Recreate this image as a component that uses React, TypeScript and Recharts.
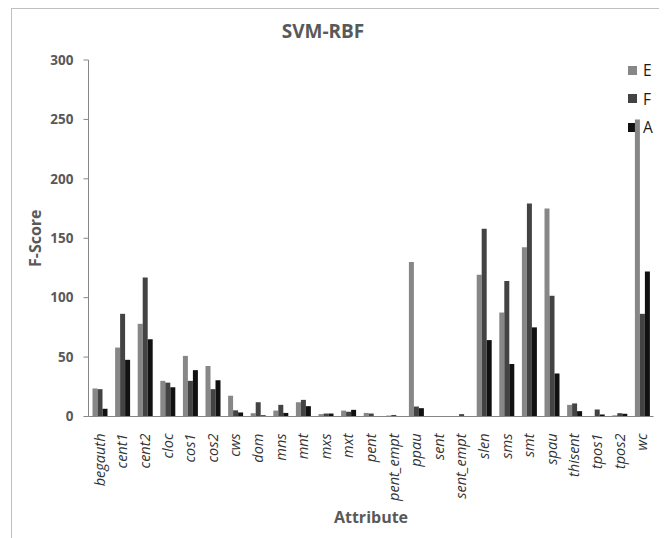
import { BarChart, Bar, XAxis, YAxis, Label } from "recharts";

const categories = [
  "begauth", "cent1", "cent2", "cloc", "cos1", "cos2", "cws", "dom", "mns",
  "mnt", "mxs", "mxt", "pent", "pent_empt", "ppau", "sent", "sent_empt",
  "slen", "sms", "smt", "spau", "thisent", "tpos1", "tpos2", "wc",
];

const scoreE = [
  23.6, 58, 78, 30, 51, 42.5, 17.5, 2.8, 5, 12, 2, 5, 3, 0.8, 130, 0, 0,
  119.3, 87.5, 142.5, 175, 9.8, 0, 1, 250,
];
const scoreF = [
  23, 86.4, 117, 28.5, 30, 23, 5.2, 12, 9.8, 14, 2.5, 4, 2.5, 1.3, 8.4, 0, 2,
  158, 114, 179.3, 101.6, 11, 5.9, 2.8, 86.4,
];
const scoreA = [
  6.5, 47.7, 65, 24.6, 39, 30.5, 3.4, 1, 3, 8.7, 2.5, 5.6, 0, 0, 7, 0, 0,
  64.3, 44.2, 75, 36.2, 4.5, 1.7, 2.3, 122,
];

const yTicks = [0, 50, 100, 150, 200, 250, 300];

const series = [
  { key: "E", color: "#878787" },
  { key: "F", color: "#434343" },
  { key: "A", color: "#111111" },
];

const data = categories.map((name, i) => ({
  name,
  E: scoreE[i],
  F: scoreF[i],
  A: scoreA[i],
}));

const FONT = "'Open Sans', 'Liberation Sans', sans-serif";

// rotated italic category labels, reading bottom to top
function AttributeTick({ x, y, payload }: any) {
  return (
    <g transform={`translate(${x},${y})`}>
      <text
        transform="rotate(-90)"
        x={-9}
        dy="0.35em"
        textAnchor="end"
        fill="#333333"
        fontSize={14.5}
        fontStyle="italic"
        fontFamily={FONT}
      >
        {payload.value}
      </text>
    </g>
  );
}

export default function App() {
  return (
    <div
      style={{
        position: "relative",
        width: 651,
        height: 540,
        marginLeft: 3,
        border: "1px solid #bfbfbf",
        borderBottom: "none",
        boxSizing: "border-box",
        fontFamily: FONT,
      }}
    >
      <div
        style={{
          position: "absolute",
          top: 11,
          left: 0,
          width: 622,
          textAlign: "center",
          fontSize: 19,
          lineHeight: "22px",
          fontWeight: 700,
          color: "#595959",
        }}
      >
        SVM-RBF
      </div>

      <div style={{ position: "absolute", top: 47, left: 616 }}>
        {series.map((s) => (
          <div
            key={s.key}
            style={{
              display: "flex",
              alignItems: "center",
              height: 28.5,
              fontSize: 15.5,
              color: "#1a1a1a",
            }}
          >
            <span
              style={{
                display: "inline-block",
                width: 9,
                height: 9,
                background: s.color,
                marginRight: 6,
              }}
            />
            {s.key}
          </div>
        ))}
      </div>

      <BarChart
        width={649}
        height={529}
        data={data}
        margin={{ top: 51, right: 7.5, left: 0, bottom: 15.5 }}
        barGap={0}
        barSize={5}
      >
        <XAxis
          dataKey="name"
          interval={0}
          height={106}
          tickLine={false}
          axisLine={{ stroke: "#868686" }}
          tick={<AttributeTick />}
        >
          <Label
            value="Attribute"
            position="insideBottom"
            offset={0}
            fill="#595959"
            fontSize={16}
            fontWeight={700}
            fontFamily={FONT}
          />
        </XAxis>
        <YAxis
          width={76.5}
          domain={[0, 300]}
          ticks={yTicks}
          tickSize={5}
          tickMargin={10}
          axisLine={{ stroke: "#868686" }}
          tickLine={{ stroke: "#868686" }}
          tick={{ fill: "#595959", fontSize: 13.5, fontWeight: 700, fontFamily: FONT }}
        >
          <Label
            value="F-Score"
            angle={-90}
            position="insideLeft"
            offset={23}
            fill="#595959"
            fontSize={16}
            fontWeight={700}
            fontFamily={FONT}
            style={{ textAnchor: "middle" }}
          />
        </YAxis>
        {series.map((s) => (
          <Bar key={s.key} dataKey={s.key} fill={s.color} isAnimationActive={false} />
        ))}
      </BarChart>
    </div>
  );
}
